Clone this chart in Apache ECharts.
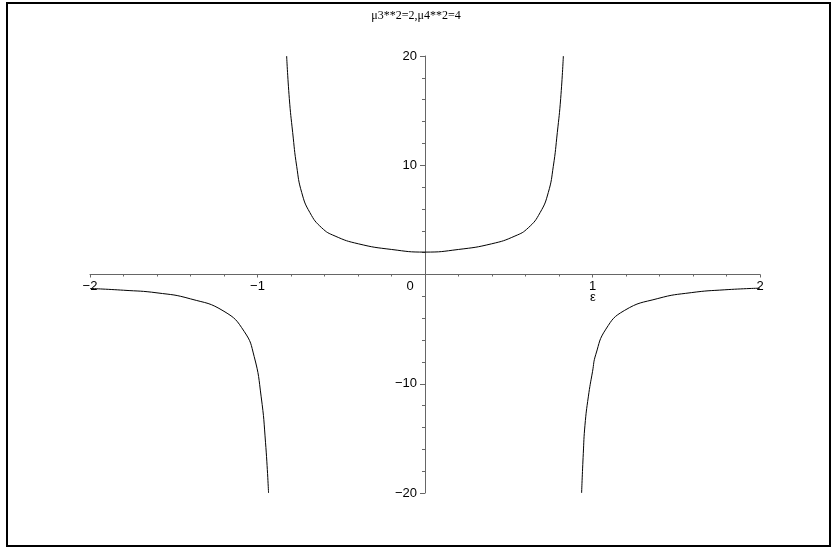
<!DOCTYPE html>
<html>
<head>
<meta charset="utf-8">
<script src="https://cdn.jsdelivr.net/npm/echarts@6/dist/echarts.min.js"></script>
<style>
  html, body { margin: 0; padding: 0; background: #fff; }
</style>
</head>
<body>
<div id="chartDom" style="width: 832px; height: 548px;"></div>
<script>
// values (epsilon, value)
const leftX = [-2.0, -1.8, -1.6, -1.4, -1.2, -1.08, -1.02, -0.978, -0.952, -0.934];
const leftY = [-1.28, -1.44, -1.68, -2.23, -3.37, -5.2, -7.5, -11.2, -15.4, -20];

const middleX = [-0.826, -0.81, -0.79, -0.766, -0.736, -0.687, -0.617, -0.537, -0.398, -0.199, 0,
  0.199, 0.398, 0.537, 0.617, 0.687, 0.736, 0.766, 0.79, 0.81, 0.826];
const middleY = [20, 16.1, 13.0, 9.9, 7.5, 5.66, 4.28, 3.52, 2.81, 2.29, 2.05,
  2.29, 2.81, 3.52, 4.28, 5.66, 7.5, 9.9, 13.0, 16.1, 20];

const rightX = [0.935, 0.945, 0.955, 0.975, 1.0, 1.02, 1.08, 1.19, 1.39, 1.59, 1.79, 2.0];
const rightY = [-20, -16.4, -13.8, -11.2, -8.9, -7.3, -5.0, -3.3, -2.2, -1.66, -1.4, -1.25];

const xTicks = [-2, -1, 0, 1, 2];
const yTicks = [-20, -10, 0, 10, 20];

const toPairs = (xs, ys) => xs.map((x, i) => [x, ys[i]]);
const minus = v => String(v).replace('-', '\u2212');

const branch = (name, xs, ys) => ({
  name: name,
  type: 'line',
  data: toPairs(xs, ys),
  showSymbol: false,
  smooth: 0.5,
  clip: true,
  lineStyle: { color: '#000', width: 1 },
  emphasis: { disabled: true }
});

const myChart = echarts.init(document.getElementById('chartDom'));

// grid box: x from 90 to 760, y from 56 to 493; axes cross at the origin
const gridLeft = 90, gridRight = 72, gridTop = 56, gridBottom = 55;
const gridW = 832 - gridLeft - gridRight;
const gridH = 548 - gridTop - gridBottom;

const axisColor = '#666';
const labelFont = { color: '#000', fontSize: 13, fontFamily: 'Liberation Sans, Arial, sans-serif' };

const option = {
  animation: false,
  title: {
    text: '\u03bc3**2=2,\u03bc4**2=4',
    left: 'center',
    top: 5,
    textStyle: { fontFamily: 'Liberation Serif, Times New Roman, serif', fontSize: 12, fontWeight: 'normal', color: '#000' }
  },
  grid: { left: gridLeft, right: gridRight, top: gridTop, bottom: gridBottom },
  xAxis: {
    type: 'value',
    position: 'bottom',
    offset: -gridH / 2,
    min: xTicks[0],
    max: xTicks[xTicks.length - 1],
    interval: 1,
    name: '\u03b5',
    nameLocation: 'end',
    nameGap: -167,
    nameMoveOverlap: false,
    nameTextStyle: { color: '#000', fontSize: 13, align: 'center', verticalAlign: 'top', padding: [16, 0, 0, 0] },
    axisLine: { onZero: false, lineStyle: { color: axisColor, width: 1 } },
    axisTick: { length: 3, lineStyle: { color: axisColor } },
    minorTick: { show: true, splitNumber: 5, length: 2, lineStyle: { color: axisColor } },
    splitLine: { show: false },
    axisLabel: Object.assign({}, labelFont, {
      margin: 5,
      formatter: v => v === 0 ? '{z|0}' : minus(v),
      rich: { z: { color: '#000', fontSize: 13, padding: [0, 30, 0, 0] } }
    })
  },
  yAxis: {
    type: 'value',
    position: 'left',
    offset: -gridW / 2,
    min: yTicks[0],
    max: yTicks[yTicks.length - 1],
    interval: 10,
    axisLine: { onZero: false, lineStyle: { color: axisColor, width: 1 } },
    axisTick: { length: 5, lineStyle: { color: axisColor } },
    minorTick: { show: true, splitNumber: 5, length: 3, lineStyle: { color: axisColor } },
    splitLine: { show: false },
    axisLabel: Object.assign({}, labelFont, {
      margin: 8,
      formatter: v => v === 0 ? '' : minus(v)
    })
  },
  graphic: [{
    type: 'rect',
    shape: { x: 7, y: 3, width: 823, height: 543 },
    style: { fill: 'none', stroke: '#000', lineWidth: 2 },
    silent: true
  }],
  series: [
    branch('left', leftX, leftY),
    branch('middle', middleX, middleY),
    branch('right', rightX, rightY)
  ]
};

myChart.setOption(option);
</script>
</body>
</html>
